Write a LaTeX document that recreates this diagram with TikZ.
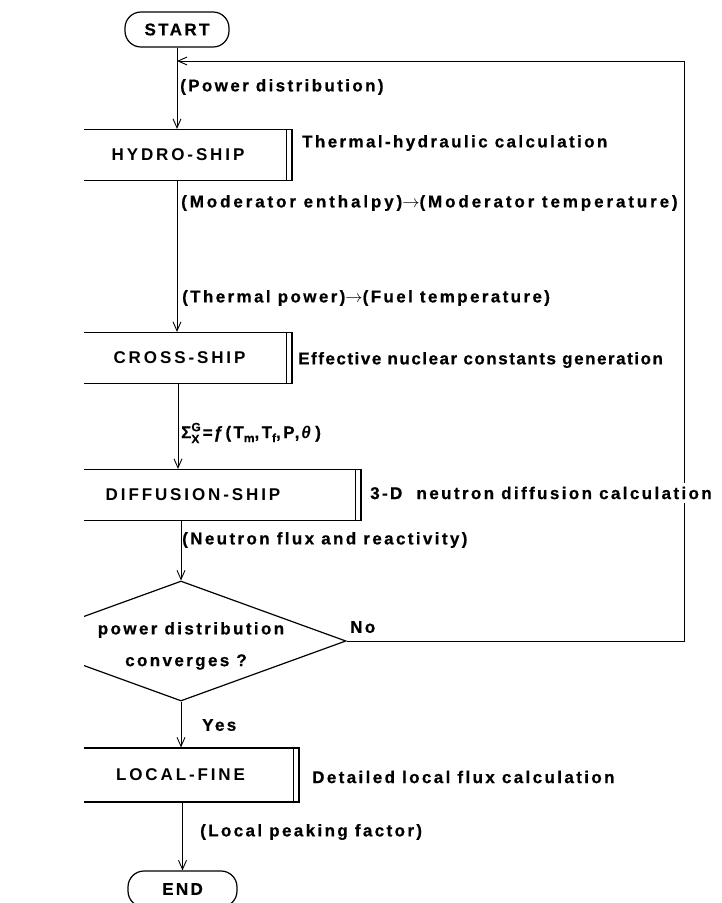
\documentclass[tikz,border=0pt]{standalone}
\usepackage{fontspec}
\setmainfont{Liberation Sans}[LetterSpace=14,BoldFeatures={FakeBold=0.6}]
\newfontfamily\boxfamily{Liberation Sans}[LetterSpace=17]
\usetikzlibrary{arrows.meta,shapes.geometric}
\newcommand\lblfont{\fontsize{17}{20}\selectfont\bfseries}
\newcommand\boxfont{\boxfamily\fontsize{17}{20}\selectfont\bfseries}
\newcommand\subfont{\fontsize{12}{13}\selectfont}
\newcommand\rarr{\ensuremath{\rightarrow}}
\begin{document}
\begin{tikzpicture}[x=1pt,y=-1pt,
  conn/.style={line width=0.9pt},
  arr/.style={conn,-{Straight Barb[length=9pt,width=8pt,line width=0.9pt]}},
  pill/.style={draw,line width=1.2pt,rounded corners=16pt,minimum height=35pt,inner sep=0pt,font=\lblfont},
  proc/.style={draw,line width=1.2pt,inner sep=0pt,minimum height=51pt,font=\boxfont},
  dec/.style={draw,diamond,line width=1.2pt,inner sep=0pt},
  lbl/.style={anchor=west,inner sep=0pt,font=\lblfont},
  ctxt/.style={inner sep=0pt,font=\lblfont}
]
\useasboundingbox (0,0) rectangle (722,903);

% terminals
\node[pill,minimum width=104pt] (start) at (177,29.5) {START};
\node[pill,minimum width=109pt,minimum height=36pt] (end) at (182.5,889) {END};

% process boxes and decision (cut at the left edge)
\begin{scope}
\clip (84,0) rectangle (722,903);
\node[proc,minimum width=228pt] (hydro) at (178,155) {HYDRO-SHIP};
\node[proc,minimum width=225pt] (cross) at (179.5,358) {CROSS-SHIP};
\node[proc,minimum width=336pt] (diff) at (193,495) {DIFFUSION-SHIP};
\node[proc,minimum width=237pt,minimum height=54pt] (local) at (180.5,775) {LOCAL-FINE};
\node[dec,minimum width=330pt,minimum height=120pt] (dia) at (181,641) {};
\end{scope}

% inner lines of the double right edges
\foreach \b in {hydro,cross,diff,local}
  \draw[line width=1.2pt] ([xshift=-6.5pt]\b.north east) -- ([xshift=-6.5pt]\b.south east);

% connectors
\coordinate (c1) at (177,0);
\coordinate (c2) at (178,0);
\draw[arr] (start) -- (start |- hydro.north);
\draw[arr] (hydro.south -| c1) -- (cross.north -| c1);
\draw[arr] (cross.south -| c2) -- (diff.north -| c2);
\draw[arr] (diff.south -| dia.north) -- (dia.north);
\draw[arr] (dia.south) -- (dia.south |- local.north);
\draw[arr] (local.south -| end.north) -- (end.north);

% feedback loop
\coordinate (fbA) at (684,641);
\coordinate (fbB) at (684,61);
\coordinate (fbC) at (177,61);
\draw[arr] (dia.east) -- (fbA) -- (fbB) -- (fbC);

% decision text
\node[ctxt] (d1) at (191,630) {power distribution};
\node[ctxt] (d2) at (186,662) {converges ?};

% labels
\node[lbl] (l1) at (180,87) {(Power distribution)};
\node[lbl] (l2) at (302,143) {Thermal-hydraulic calculation};
\node[lbl] (l3) at (181,203) {\addfontfeature{LetterSpace=17}(Moderator enthalpy)\rarr(Moderator temperature)};
\node[lbl] (l4) at (182,298) {(Thermal power)\rarr(Fuel temperature)};
\node[lbl] (l5) at (298,360) {\addfontfeature{LetterSpace=9}Effective nuclear constants generation};
\node[lbl] (l6) at (181,433) {Σ\rlap{\raisebox{-5pt}{\subfont X}}\raisebox{7pt}{\subfont G}\hspace{2pt}=\hspace{1pt}ƒ(T\raisebox{-4pt}{\subfont m},T\raisebox{-4pt}{\subfont f},P,\hspace{2pt}\textit{θ}\hspace{2pt})};
\node[lbl,fill=white,inner ysep=4pt] (l7) at (370,493) {3-D\ \ neutron diffusion calculation};
\node[lbl] (l8) at (182,540) {(Neutron flux and reactivity)};
\node[lbl] (l9) at (350,627) {No};
\node[lbl] (l10) at (202,725) {Yes};
\node[lbl] (l11) at (312,777) {Detailed local flux calculation};
\node[lbl] (l12) at (200,832) {(Local peaking factor)};
\end{tikzpicture}
\end{document}
